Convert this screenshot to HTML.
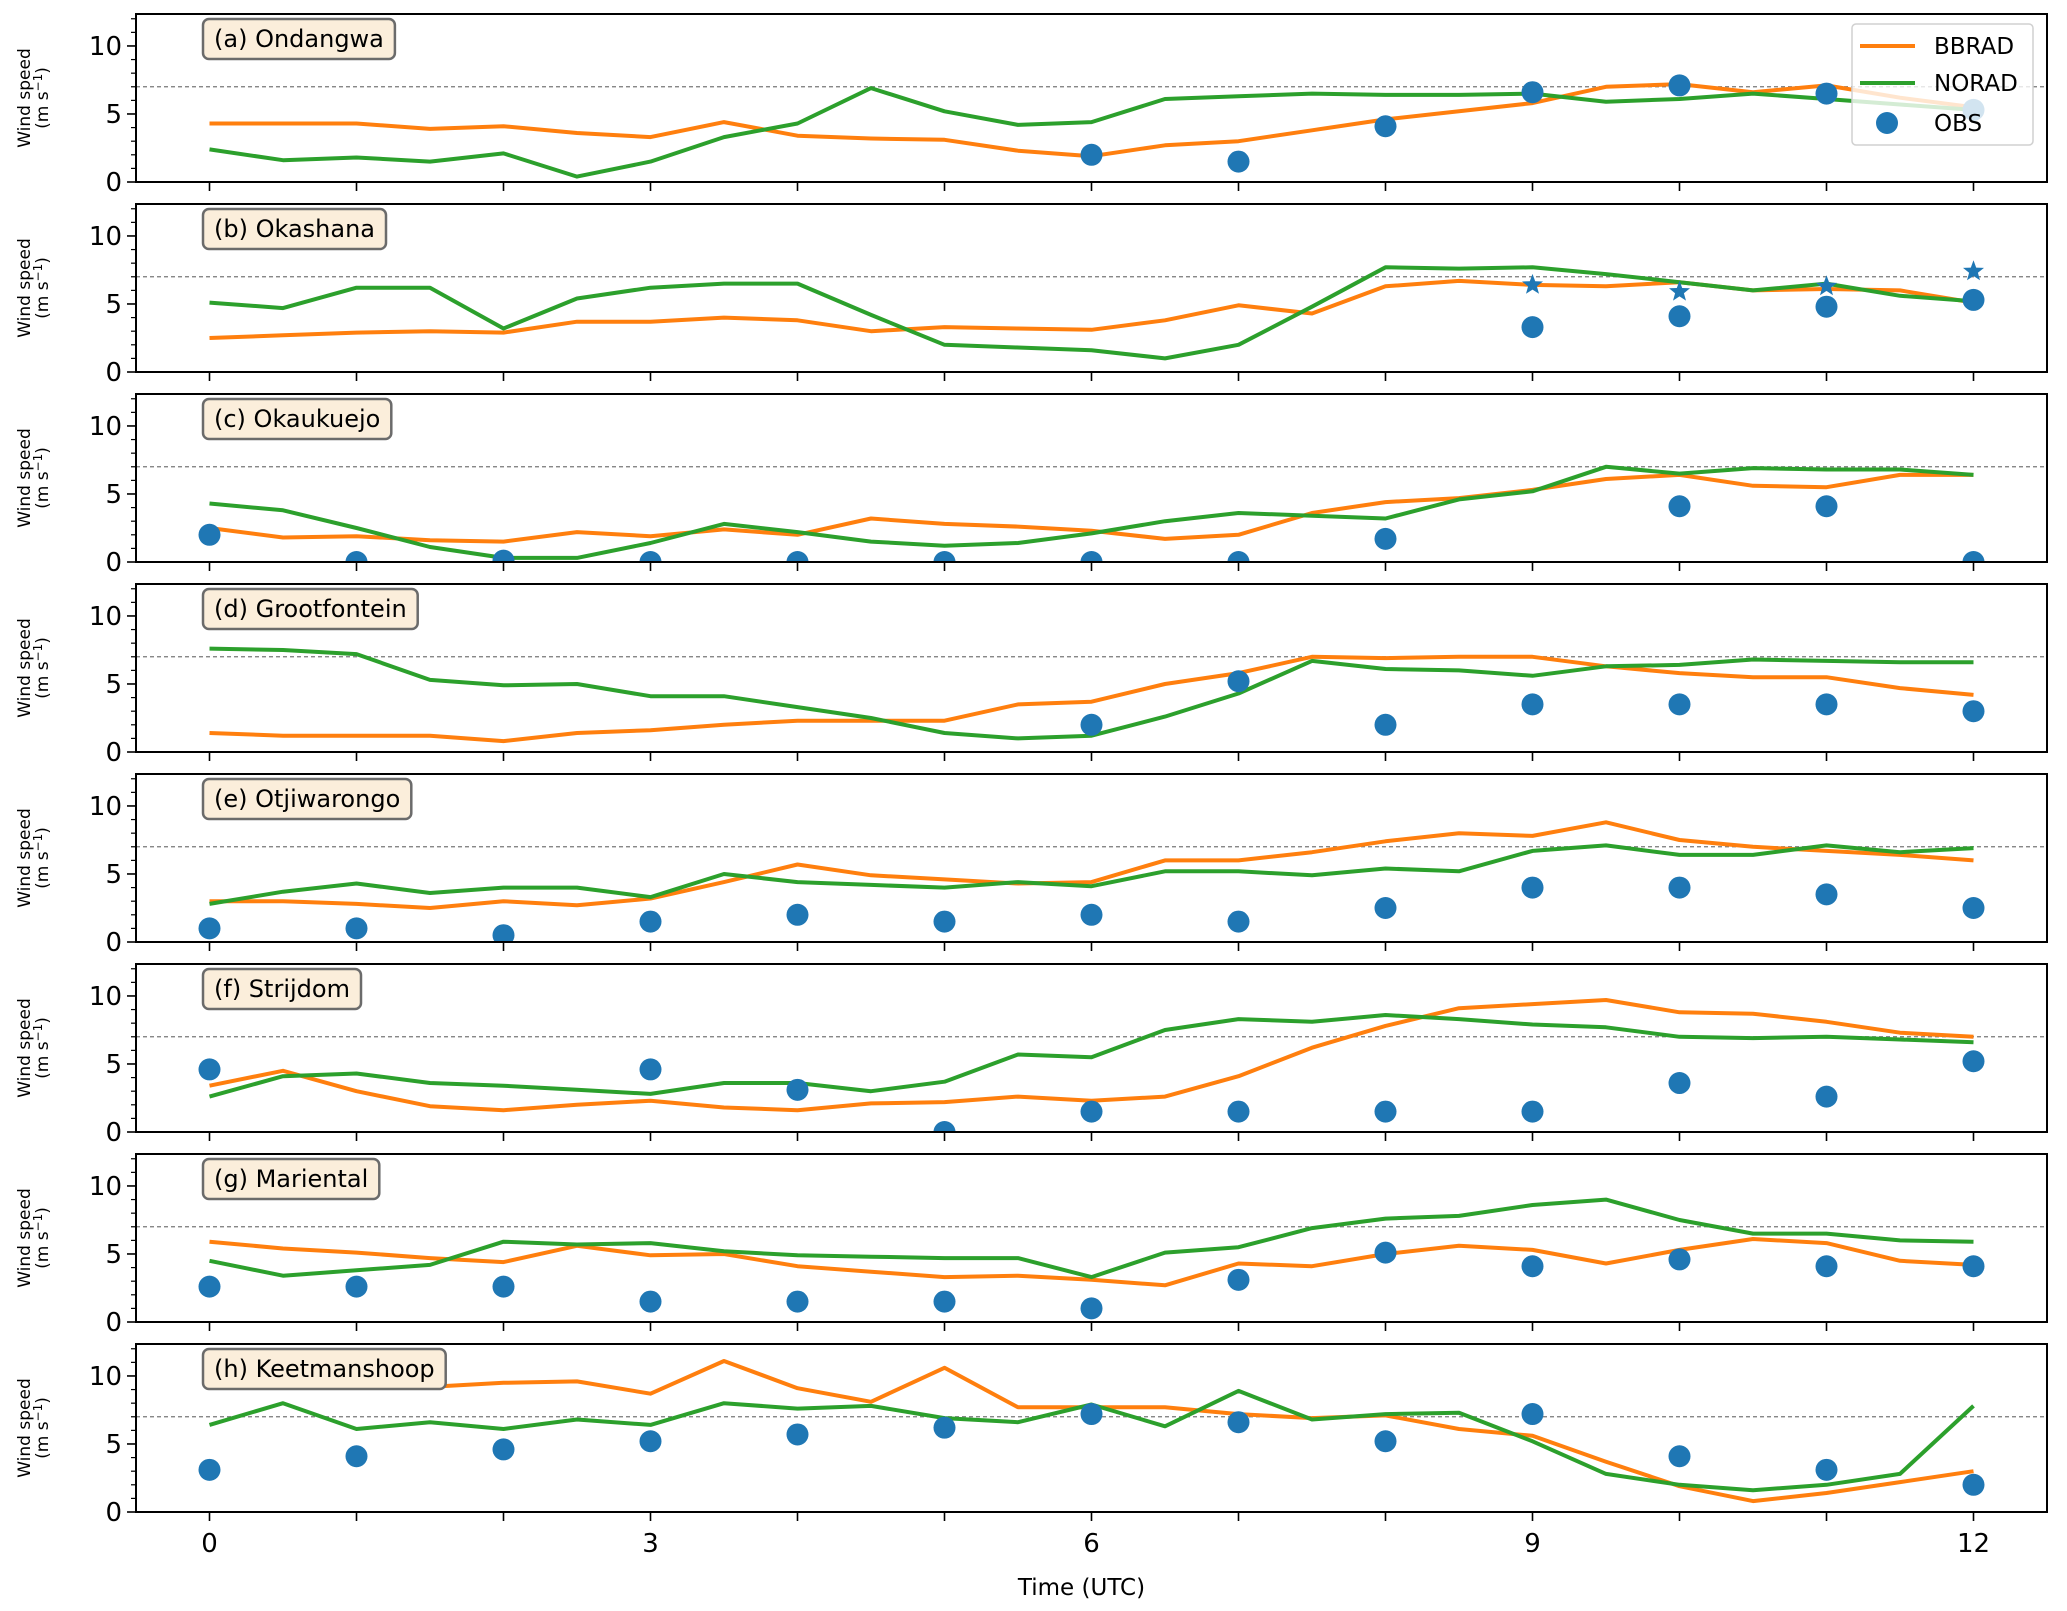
<!DOCTYPE html>
<html><head><meta charset="utf-8">
<style>
html,body{margin:0;padding:0;background:#fff;}
svg{display:block;font-family:"DejaVu Sans","Liberation Sans",sans-serif;}
</style></head>
<body>
<svg id="chart" width="2067" height="1611" viewBox="0 0 2067 1611" xmlns="http://www.w3.org/2000/svg"></svg>
<script>
const stations = ["(a) Ondangwa","(b) Okashana","(c) Okaukuejo","(d) Grootfontein","(e) Otjiwarongo","(f) Strijdom","(g) Mariental","(h) Keetmanshoop"];
const modelTimes = [0,0.5,1,1.5,2,2.5,3,3.5,4,4.5,5,5.5,6,6.5,7,7.5,8,8.5,9,9.5,10,10.5,11,11.5,12];
const obsTimes = [0,1,2,3,4,5,6,7,8,9,10,11,12];
const xTickValues = [0,1,2,3,4,5,6,7,8,9,10,11,12];
const xTickLabels = ["0","","","3","","","6","","","9","","","12"];
const yTickLabels = [0,5,10];
const thresholdValue = 7;
const bbrad = [
[4.3,4.3,4.3,3.9,4.1,3.6,3.3,4.4,3.4,3.2,3.1,2.3,1.9,2.7,3.0,3.8,4.6,5.2,5.8,7.0,7.2,6.6,7.1,6.2,5.5],
[2.5,2.7,2.9,3.0,2.9,3.7,3.7,4.0,3.8,3.0,3.3,3.2,3.1,3.8,4.9,4.3,6.3,6.7,6.4,6.3,6.6,6.0,6.1,6.0,5.1],
[2.5,1.8,1.9,1.6,1.5,2.2,1.9,2.4,2.0,3.2,2.8,2.6,2.3,1.7,2.0,3.6,4.4,4.7,5.3,6.1,6.4,5.6,5.5,6.4,6.4],
[1.4,1.2,1.2,1.2,0.8,1.4,1.6,2.0,2.3,2.3,2.3,3.5,3.7,5.0,5.8,7.0,6.9,7.0,7.0,6.3,5.8,5.5,5.5,4.7,4.2],
[3.0,3.0,2.8,2.5,3.0,2.7,3.2,4.4,5.7,4.9,4.6,4.3,4.4,6.0,6.0,6.6,7.4,8.0,7.8,8.8,7.5,7.0,6.7,6.4,6.0],
[3.4,4.5,3.0,1.9,1.6,2.0,2.3,1.8,1.6,2.1,2.2,2.6,2.3,2.6,4.1,6.2,7.8,9.1,9.4,9.7,8.8,8.7,8.1,7.3,7.0],
[5.9,5.4,5.1,4.7,4.4,5.6,4.9,5.0,4.1,3.7,3.3,3.4,3.1,2.7,4.3,4.1,5.0,5.6,5.3,4.3,5.3,6.1,5.8,4.5,4.2],
[10.3,9.4,9.3,9.2,9.5,9.6,8.7,11.1,9.1,8.1,10.6,7.7,7.7,7.7,7.2,6.9,7.1,6.1,5.6,3.7,1.9,0.8,1.4,2.2,3.0]];
const norad = [
[2.4,1.6,1.8,1.5,2.1,0.4,1.5,3.3,4.3,6.9,5.2,4.2,4.4,6.1,6.3,6.5,6.4,6.4,6.5,5.9,6.1,6.5,6.1,5.7,5.3],
[5.1,4.7,6.2,6.2,3.2,5.4,6.2,6.5,6.5,4.2,2.0,1.8,1.6,1.0,2.0,4.8,7.7,7.6,7.7,7.2,6.6,6.0,6.5,5.6,5.2],
[4.3,3.8,2.5,1.1,0.3,0.3,1.4,2.8,2.2,1.5,1.2,1.4,2.1,3.0,3.6,3.4,3.2,4.6,5.2,7.0,6.5,6.9,6.8,6.8,6.4],
[7.6,7.5,7.2,5.3,4.9,5.0,4.1,4.1,3.3,2.5,1.4,1.0,1.2,2.6,4.3,6.7,6.1,6.0,5.6,6.3,6.4,6.8,6.7,6.6,6.6],
[2.8,3.7,4.3,3.6,4.0,4.0,3.3,5.0,4.4,4.2,4.0,4.4,4.1,5.2,5.2,4.9,5.4,5.2,6.7,7.1,6.4,6.4,7.1,6.6,6.9],
[2.6,4.1,4.3,3.6,3.4,3.1,2.8,3.6,3.6,3.0,3.7,5.7,5.5,7.5,8.3,8.1,8.6,8.3,7.9,7.7,7.0,6.9,7.0,6.8,6.6],
[4.5,3.4,3.8,4.2,5.9,5.7,5.8,5.2,4.9,4.8,4.7,4.7,3.3,5.1,5.5,6.9,7.6,7.8,8.6,9.0,7.5,6.5,6.5,6.0,5.9],
[6.4,8.0,6.1,6.6,6.1,6.8,6.4,8.0,7.6,7.8,6.9,6.6,7.9,6.3,8.9,6.8,7.2,7.3,5.2,2.8,2.0,1.6,2.0,2.8,7.8]];
const obs = [
[null,null,null,null,null,null,2.0,1.5,4.1,6.6,7.1,6.5,5.3],
[null,null,null,null,null,null,null,null,null,3.3,4.1,4.8,5.3],
[2.0,0,0.1,0,0,0,0,0,1.7,null,4.1,4.1,0],
[null,null,null,null,null,null,2.0,5.2,2.0,3.5,3.5,3.5,3.0],
[1.0,1.0,0.5,1.5,2.0,1.5,2.0,1.5,2.5,4.0,4.0,3.5,2.5],
[4.6,null,null,4.6,3.1,0,1.5,1.5,1.5,1.5,3.6,2.6,5.2],
[2.6,2.6,2.6,1.5,1.5,1.5,1.0,3.1,5.1,4.1,4.6,4.1,4.1],
[3.1,4.1,4.6,5.2,5.7,6.2,7.2,6.6,5.2,7.2,4.1,3.1,2.0]];
const starStationIndex = 1;
const starTimes = [9,10,11,12];
const starValues = [6.4,5.9,6.3,7.4];

const NS="http://www.w3.org/2000/svg";
const svg=document.getElementById('chart');
function mk(tag,attrs,parent){const e=document.createElementNS(NS,tag);for(const k in attrs)e.setAttribute(k,attrs[k]);(parent||svg).appendChild(e);return e;}
const L=136,R=2047,H=168,GAP=190,TOP0=14;
const xmin=-0.5,xmax=12.5,ymax=12.35;
function xs(v){return L+(v-xmin)/(xmax-xmin)*(R-L);}
function ysFn(top){return v=>top+H-(v/ymax)*H;}
const C={b:"#ff7f0e",n:"#2ca02c",o:"#1f77b4"};
function starPath(cx,cy,r){let p="";for(let i=0;i<10;i++){const a=-Math.PI/2+i*Math.PI/5;const rr=i%2?r*0.42:r;p+=(i?"L":"M")+(cx+rr*Math.cos(a)).toFixed(1)+","+(cy+rr*Math.sin(a)).toFixed(1);}return p+"Z";}

stations.forEach((name,si)=>{
  const top=TOP0+si*GAP, ys=ysFn(top), bot=top+H;
  const g=mk('g',{});
  
  
  const clipId='clip'+si;
  const cp=mk('clipPath',{id:clipId},g);mk('rect',{x:L,y:top,width:R-L,height:H},cp);
  const th=mk('line',{x1:L,x2:R,y1:ys(thresholdValue),y2:ys(thresholdValue),stroke:"#777",'stroke-width':1.3,'stroke-dasharray':"4,3"},g);
  
  
  const cg=mk('g',{'clip-path':'url(#'+clipId+')'},g);
  [[bbrad[si],C.b,'bbrad-line'],[norad[si],C.n,'norad-line']].forEach(([arr,col,nm])=>{
    const pts=modelTimes.map((t,i)=>xs(t).toFixed(1)+","+ys(arr[i]).toFixed(1)).join(" ");
    const pl=mk('polyline',{points:pts,fill:"none",stroke:col,'stroke-width':4,'stroke-linejoin':'round'},cg);
    
    
  });
  obsTimes.forEach((t,i)=>{const v=obs[si][i];if(v===null)return;
    const c=mk('circle',{cx:xs(t),cy:ys(v),r:11,fill:C.o},cg);
    
    
  });
  if(si===starStationIndex){starTimes.forEach((t,i)=>{
    const s=mk('path',{d:starPath(xs(t),ys(starValues[i]),11),fill:C.o},cg);
    
    
  });}
  mk('rect',{x:L,y:top,width:R-L,height:H,fill:"none",stroke:"#000",'stroke-width':2},g);
  for(let v=0;v<=12;v++){const major=v%5===0;
    mk('line',{x1:L,x2:L-(major?9:5),y1:ys(v),y2:ys(v),stroke:"#000",'stroke-width':major?1.6:1.2},g);}
  yTickLabels.forEach(v=>{const t=mk('text',{x:L-14,y:ys(v)+9,'text-anchor':'end','font-size':26},g);t.textContent=v;
    
    });
  xTickValues.forEach((v,i)=>{mk('line',{x1:xs(v),x2:xs(v),y1:bot,y2:bot+9,stroke:"#000",'stroke-width':1.6},g);
    if(si===stations.length-1&&xTickLabels[i]){const t=mk('text',{x:xs(v),y:bot+40,'text-anchor':'middle','font-size':26},g);t.textContent=xTickLabels[i];
      
      }});
  const yl=mk('text',{transform:`translate(30,${top+H/2}) rotate(-90)`,'text-anchor':'middle','font-size':17},g);yl.textContent="Wind speed";
  
  
  const yl2=mk('text',{transform:`translate(48,${top+H/2}) rotate(-90)`,'text-anchor':'middle','font-size':17},g);
  
  
  yl2.innerHTML='(m s<tspan dy="-6" font-size="12">−1</tspan><tspan dy="6">)</tspan>';
  const bx=mk('rect',{x:203,y:top+5,width:100,height:40,rx:6,fill:"#fbeedb",stroke:"#6b6b6b",'stroke-width':2.5},g);
  
  
  const tt=mk('text',{x:214,y:top+33,'font-size':24},g);tt.textContent=name;
  
  
  bx.setAttribute('width',(tt.getComputedTextLength()+22).toFixed(1));
});
const xl=mk('text',{x:(L+R)/2-10,y:1595,'text-anchor':'middle','font-size':23});xl.textContent="Time (UTC)";


const lg=mk('g',{});


mk('rect',{x:1852,y:24,width:181,height:121,rx:4,fill:"rgba(255,255,255,0.8)",stroke:"#d0d0d0",'stroke-width':1.5},lg);
[["BBRAD",C.b],["NORAD",C.n]].forEach(([n,c],i)=>{const y=46+i*37;
  mk('line',{x1:1860,x2:1915,y1:y,y2:y,stroke:c,'stroke-width':4},lg);
  const t=mk('text',{x:1934,y:y+8,'font-size':23},lg);t.textContent=n;
  
  });
mk('circle',{cx:1887,cy:123,r:11,fill:C.o},lg);
const to=mk('text',{x:1934,y:131,'font-size':23},lg);to.textContent="OBS";


</script>
</body></html>
